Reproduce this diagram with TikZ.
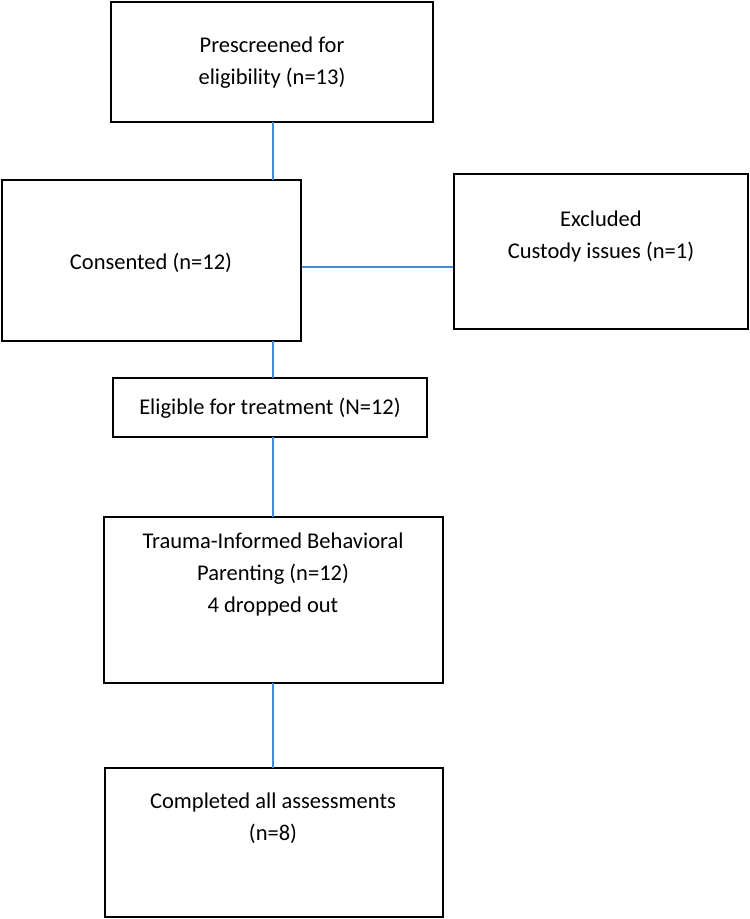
\documentclass[tikz,border=0pt]{standalone}
\usepackage{fontspec}
\setmainfont{Carlito}
\usetikzlibrary{positioning}
\definecolor{linkblue}{RGB}{68,140,215}
\tikzset{
  box/.style={draw=black,line width=1.8pt,minimum width=#1,inner sep=0pt},
  txt/.style={font=\fontsize{22.5}{32}\selectfont,align=center,inner sep=0pt},
  link/.style={draw=linkblue,line width=1.2pt}
}
\begin{document}
\begin{tikzpicture}[x=1pt,y=-1pt]
  \useasboundingbox (0,0) rectangle (750,919);
  % boxes
  \node[box=322pt,minimum height=120pt] (pre) at (272,62) {};
  \node[box=299pt,minimum height=161pt] (con) at (151.5,260.5) {};
  \node[box=294pt,minimum height=155pt] (exc) at (601,251.5) {};
  \node[box=314pt,minimum height=59pt] (eli) at (270,407.5) {};
  \node[box=339pt,minimum height=166pt] (tib) at (273.5,600) {};
  \node[box=338pt,minimum height=149pt] (com) at (274,842.5) {};
  % texts
  \node[txt] (preT) at (272,63) {Prescreened for\\eligibility (n=13)};
  \node[txt] (conT) at (151,263) {Consented (n=12)};
  \node[txt] (excT) at (601,236) {Excluded\\Custody issues (n=1)};
  \node[txt] (eliT) at (270,408) {Eligible for treatment (N=12)};
  \node[txt,anchor=north] (tibT) at (273,533) {Trauma-Informed Behavioral\\Parenting (n=12)\\4 dropped out};
  \node[txt,anchor=north] (comT) at (273,793) {Completed all assessments\\(n=8)};
  % connectors
  \coordinate (c1) at (273,122);
  \coordinate (c2) at (273,180);
  \coordinate (c3) at (273,341);
  \coordinate (c4) at (273,378);
  \coordinate (c5) at (273,437);
  \coordinate (c6) at (273,517);
  \coordinate (c7) at (273,683);
  \coordinate (c8) at (273,768);
  \draw[link] (c1) -- (c2);
  \draw[link] (c3) -- (c4);
  \draw[link] (c5) -- (c6);
  \draw[link] (c7) -- (c8);
  \draw[link] (con.east |- 0,267) -- (exc.west |- 0,267);
\end{tikzpicture}
\end{document}
